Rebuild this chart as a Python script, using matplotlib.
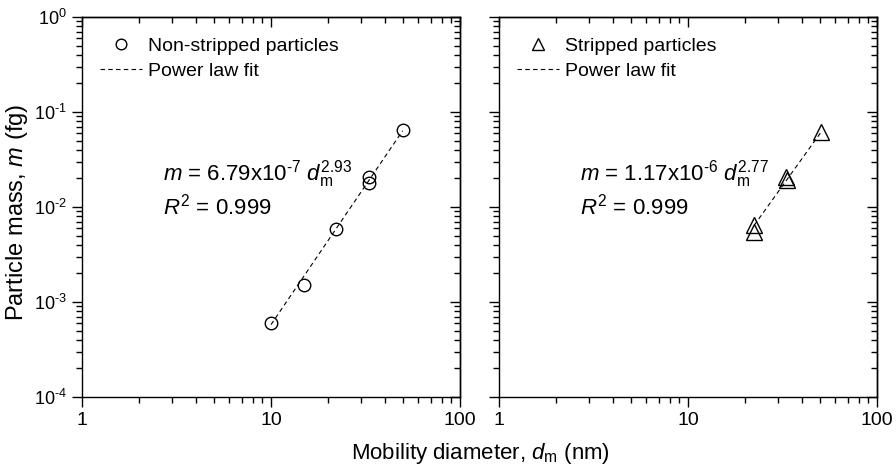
import numpy as np
import matplotlib
matplotlib.use("Agg")
import matplotlib.pyplot as plt
from matplotlib.ticker import LogLocator, FuncFormatter, FixedLocator, FixedFormatter, NullFormatter
from matplotlib.lines import Line2D

plt.rcParams['font.family'] = ['Liberation Sans', 'DejaVu Sans']
plt.rcParams['mathtext.fontset'] = 'custom'
plt.rcParams['mathtext.rm'] = 'Liberation Sans'
plt.rcParams['mathtext.it'] = 'Liberation Sans:italic'
plt.rcParams['mathtext.default'] = 'regular'

# dane
d_non = [10.0, 15.0, 22.2, 33.0, 33.0, 49.7]
m_non = [6.05e-4, 1.52e-3, 5.8e-3, 0.0205, 0.0178, 0.064]
d_str = [22.4, 22.4, 33.0, 33.4, 50.4]
m_str = [6.5e-3, 5.4e-3, 0.0205, 0.0192, 0.061]

# parametry dopasowania m = a * d^b
fit_non = (6.79e-7, 2.93)
fit_str = (1.17e-6, 2.77)

fig = plt.figure(figsize=(8.96, 4.67), dpi=100)
ax1 = fig.add_axes([82/896, 1 - 397/467, 378/896, 380/467])
ax2 = fig.add_axes([499/896, 1 - 397/467, 378/896, 380/467])


def fit_line(ax, d, fit):
    a, b = fit
    xs = np.logspace(np.log10(min(d)), np.log10(max(d)), 50)
    ax.plot(xs, a * xs ** b, 'k--', lw=0.8, dashes=(4, 3))


def pow_label(v, pos):
    e = int(round(np.log10(v)))
    s = str(e).replace('-', r'\text{-}')
    return r"$10^{%s}$" % s


def set_log_ticks(axis, major, labels=None):
    axis.set_major_locator(FixedLocator(major))
    axis.set_minor_locator(LogLocator(base=10, subs=np.arange(2, 10), numticks=20))
    axis.set_minor_formatter(NullFormatter())
    if labels is None:
        axis.set_major_formatter(NullFormatter())
    else:
        axis.set_major_formatter(labels)


ax1.plot(d_non, m_non, 'o', mfc='none', mec='k', ms=9, mew=1.0)
fit_line(ax1, d_non, fit_non)
ax2.plot(d_str, m_str, '^', mfc='none', mec='k', ms=11, mew=1.0)
fit_line(ax2, d_str, fit_str)

yticks = [1e-4, 1e-3, 1e-2, 1e-1, 1]
xticks = [1, 10, 100]

for ax, lab, mk, ms, eq in [(ax1, 'Non-stripped particles', 'o', 9, r"6.79x10$^{\text{-}7}$ $\it{d}_{\rm m}^{2.93}$"),
                            (ax2, 'Stripped particles', '^', 11, r"1.17x10$^{\text{-}6}$ $\it{d}_{\rm m}^{2.77}$")]:
    ax.set_xscale('log')
    ax.set_yscale('log')
    ax.set_xlim(1, 100)
    ax.set_ylim(1e-4, 1)
    set_log_ticks(ax.xaxis, xticks, FixedFormatter(['1', '10', '100']))
    set_log_ticks(ax.yaxis, yticks, FuncFormatter(pow_label) if ax is ax1 else None)
    ax.tick_params(which='both', width=1.0, direction='out')
    ax.tick_params(axis='x', labelsize=14)
    ax.tick_params(axis='y', labelsize=13)
    ax.tick_params(which='major', length=7, pad=4)
    ax.tick_params(which='minor', length=4)
    for sp in ax.spines.values():
        sp.set_linewidth(1.0)

    # os gorna i prawa - ticki do srodka
    top = ax.secondary_xaxis('top')
    set_log_ticks(top.xaxis, xticks)
    right = ax.secondary_yaxis('right')
    set_log_ticks(right.yaxis, yticks)
    for sec in (top, right):
        sec.tick_params(which='both', direction='in', width=1.0)
        sec.tick_params(which='major', length=7)
        sec.tick_params(which='minor', length=4)
        for sp in sec.spines.values():
            sp.set_linewidth(1.0)

    ax.text(0.214, 0.571, r"$\it{m}$ = " + eq, transform=ax.transAxes, fontsize=16)
    ax.text(0.214, 0.479, r"$\it{R}^{2}$ = 0.999", transform=ax.transAxes, fontsize=16)
    handles = [Line2D([], [], ls='none', marker=mk, mfc='none', mec='k', ms=ms * 0.85, mew=1.0),
               Line2D([], [], ls='--', color='k', lw=0.8, dashes=(4, 3))]
    ax.legend(handles, [lab, 'Power law fit'], loc='upper left', frameon=False, fontsize=14,
              handlelength=2.15, handletextpad=0.3, borderpad=0, borderaxespad=0,
              labelspacing=0.4, bbox_to_anchor=(18/378, 0.947))

fig.text(17/896, 1 - 212/467, r"Particle mass, $\it{m}$ (fg)", fontsize=17, rotation=90,
         ha='center', va='center')
fig.text(480/896, 1 - 459/467, r"Mobility diameter, $\it{d}_{\rm m}$ (nm)", fontsize=16,
         ha='center', va='baseline')

fig.savefig("out.png", dpi=100)
